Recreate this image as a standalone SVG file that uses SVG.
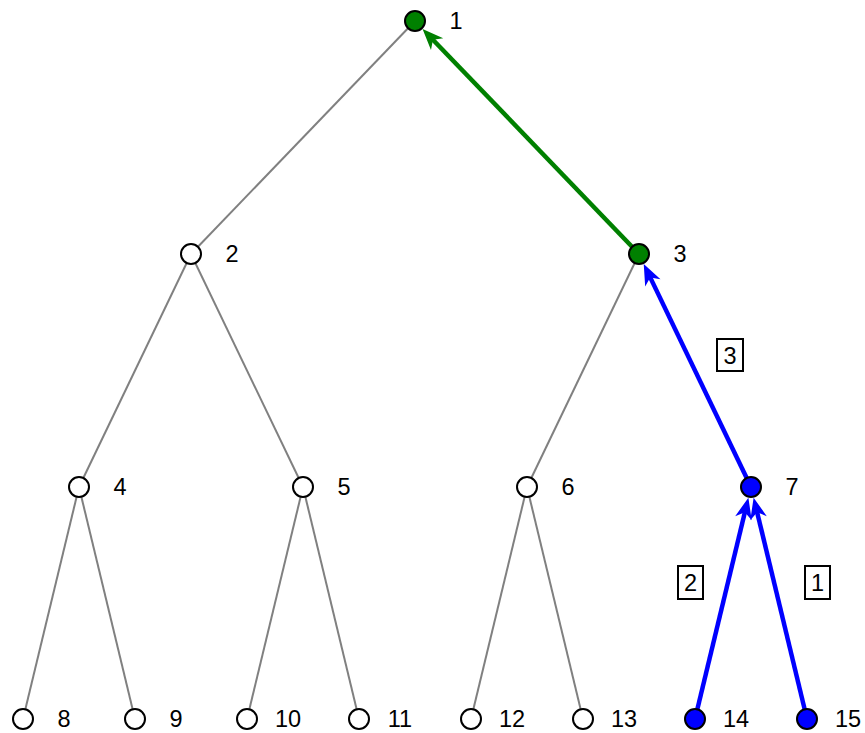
<svg xmlns="http://www.w3.org/2000/svg" width="865" height="733" viewBox="0 0 865 733">
<style>
.e{stroke:#808080;stroke-width:2;fill:none}
.g{stroke:#008000;stroke-width:4.5;fill:none}
.b{stroke:#0000ff;stroke-width:4.5;fill:none}
.n{stroke:#000;stroke-width:2;fill:#fff}
.ng{fill:#008000}
.nb{fill:#0000ff}
text{font-family:"Liberation Sans",Arial,sans-serif;font-size:23.5px;fill:#000;text-anchor:middle}
.box{fill:#fff;stroke:#000;stroke-width:2}
</style>
<defs>
<marker id="ag" viewBox="-20 -12 32 24" refX="0" refY="0" markerWidth="32" markerHeight="24" markerUnits="userSpaceOnUse" orient="auto">
<path d="M8,0 L-13,-8.5 L-7,0 L-13,8.5 Z" fill="#008000"/>
</marker>
<marker id="ab" viewBox="-20 -12 32 24" refX="0" refY="0" markerWidth="32" markerHeight="24" markerUnits="userSpaceOnUse" orient="auto">
<path d="M8,0 L-13,-8.5 L-7,0 L-13,8.5 Z" fill="#0000ff"/>
</marker>
</defs>
<g id="connectors">
<line class="e" x1="415" y1="21" x2="191" y2="254"/>
<line class="e" x1="191" y1="254" x2="79" y2="487"/>
<line class="e" x1="191" y1="254" x2="303" y2="487"/>
<line class="e" x1="639" y1="254" x2="527" y2="487"/>
<line class="e" x1="79" y1="487" x2="23" y2="719"/>
<line class="e" x1="79" y1="487" x2="135" y2="719"/>
<line class="e" x1="303" y1="487" x2="247" y2="719"/>
<line class="e" x1="303" y1="487" x2="359" y2="719"/>
<line class="e" x1="527" y1="487" x2="471" y2="719"/>
<line class="e" x1="527" y1="487" x2="583" y2="719"/>
<line class="g" x1="639" y1="254" x2="428.1" y2="34.7" marker-end="url(#ag)"/>
<line class="b" x1="751" y1="487" x2="647.2" y2="271.1" marker-end="url(#ab)"/>
<line class="b" x1="695" y1="719" x2="746.5" y2="505.5" marker-end="url(#ab)"/>
<line class="b" x1="807" y1="719" x2="755.5" y2="505.5" marker-end="url(#ab)"/>
</g>
<g id="edge-labels">
<rect class="box" x="717" y="339" width="26" height="32"/><text x="730" y="364">3</text>
<rect class="box" x="678" y="566" width="25" height="33"/><text x="690.5" y="591">2</text>
<rect class="box" x="805" y="566" width="25" height="33"/><text x="817.5" y="591">1</text>
</g>
<g id="n1"><circle class="n ng" cx="415" cy="21" r="10"/><text x="456" y="29">1</text></g>
<g id="n2"><circle class="n" cx="191" cy="254" r="10"/><text x="232" y="262">2</text></g>
<g id="n3"><circle class="n ng" cx="639" cy="254" r="10"/><text x="680" y="262">3</text></g>
<g id="n4"><circle class="n" cx="79" cy="487" r="10"/><text x="120" y="495">4</text></g>
<g id="n5"><circle class="n" cx="303" cy="487" r="10"/><text x="344" y="495">5</text></g>
<g id="n6"><circle class="n" cx="527" cy="487" r="10"/><text x="568" y="495">6</text></g>
<g id="n7"><circle class="n nb" cx="751" cy="487" r="10"/><text x="792" y="495">7</text></g>
<g id="n8"><circle class="n" cx="23" cy="719" r="10"/><text x="64" y="727">8</text></g>
<g id="n9"><circle class="n" cx="135" cy="719" r="10"/><text x="176" y="727">9</text></g>
<g id="n10"><circle class="n" cx="247" cy="719" r="10"/><text x="288" y="727">10</text></g>
<g id="n11"><circle class="n" cx="359" cy="719" r="10"/><text x="400" y="727">11</text></g>
<g id="n12"><circle class="n" cx="471" cy="719" r="10"/><text x="512" y="727">12</text></g>
<g id="n13"><circle class="n" cx="583" cy="719" r="10"/><text x="624" y="727">13</text></g>
<g id="n14"><circle class="n nb" cx="695" cy="719" r="10"/><text x="736" y="727">14</text></g>
<g id="n15"><circle class="n nb" cx="807" cy="719" r="10"/><text x="848" y="727">15</text></g>
</svg>
